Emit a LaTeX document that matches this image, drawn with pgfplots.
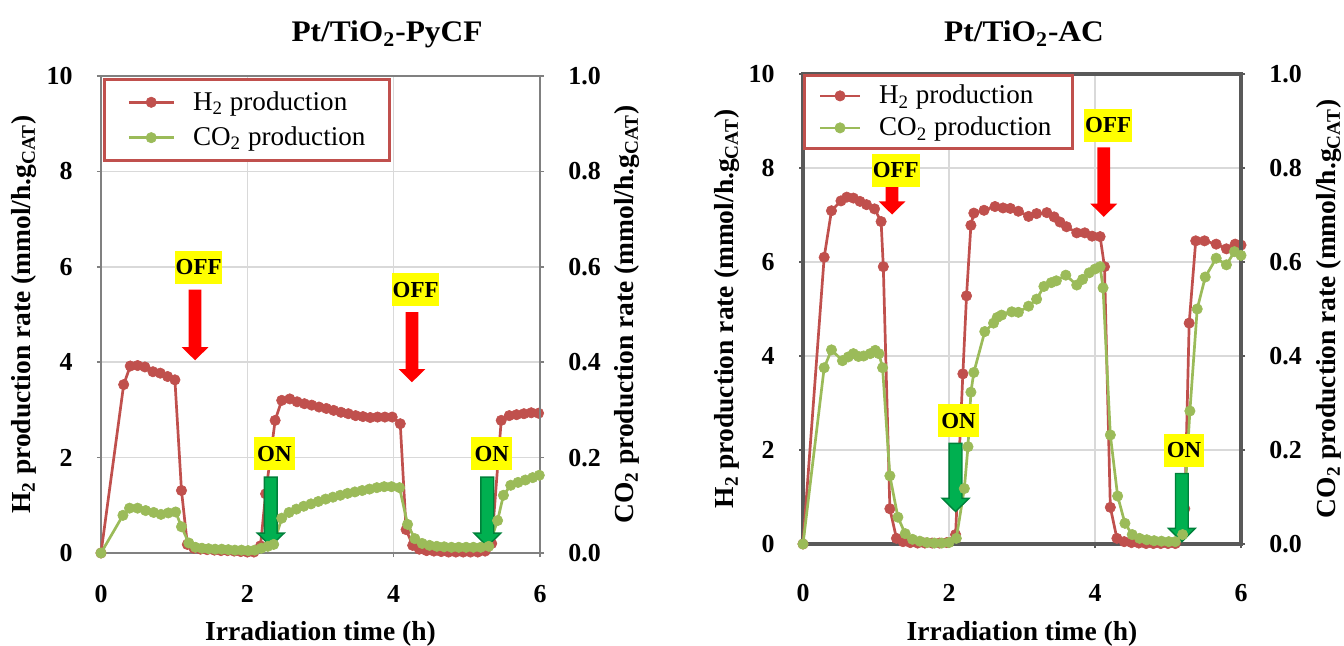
\documentclass[border=0pt]{standalone}
\usepackage{fontspec}
\setmainfont{Liberation Serif}
\newfontfamily\titlefont{Liberation Serif}[FakeStretch=1.05]
\usepackage{pgfplots}
\pgfplotsset{compat=1.18}
\usetikzlibrary{calc}
\definecolor{h2c}{HTML}{C0504D}
\definecolor{co2c}{HTML}{9BBB59}
\definecolor{gridc}{HTML}{D9D9D9}
\definecolor{frameA}{HTML}{808080}
\definecolor{frameB}{HTML}{595959}
\definecolor{arrG}{HTML}{00B050}
\definecolor{arrGd}{HTML}{00803A}
\definecolor{lblY}{HTML}{FFFF00}

\newcommand{\blockarrow}[5]{%
  \filldraw[fill=#4, draw=#5, line width=0.7bp, line join=miter]
   ($(axis cs:#1,#2)+(-3.2bp,0)$) -- ($(axis cs:#1,#2)+(3.2bp,0)$) --
   ($(axis cs:#1,#3)+(3.2bp,6.6bp)$) -- ($(axis cs:#1,#3)+(6.7bp,6.6bp)$) --
   (axis cs:#1,#3) -- ($(axis cs:#1,#3)+(-6.7bp,6.6bp)$) --
   ($(axis cs:#1,#3)+(-3.2bp,6.6bp)$) -- cycle;}

\tikzset{
  offlbl/.style={fill=lblY, font=\bfseries\fontsize{11.5}{12}\selectfont, inner sep=0pt, minimum height=16.5bp, minimum width=23.8bp},
  onlbl/.style={fill=lblY, font=\bfseries\fontsize{11.5}{12}\selectfont, inner sep=0pt, minimum height=16.5bp, minimum width=20.3bp},
}
\pgfplotsset{
  base/.style={
    scale only axis, xmin=0, xmax=6, xtick={0,2,4,6},
    clip=false,
    /pgf/number format/assume math mode=true,
    tick align=outside, major tick length=2bp,
    tick style={line width=0.8bp, draw=frameA},
    ticklabel style={font=\bfseries\fontsize{13}{15}\selectfont},
    label style={font=\bfseries\fontsize{13.8}{16}\selectfont},
  },
  h2/.style={color=h2c, line width=1.35bp, mark=*, mark size=2.6bp,
    mark options={solid, fill=h2c, draw=h2c, line width=0.3bp}},
  co2/.style={color=co2c, line width=1.35bp, mark=*, mark size=2.6bp,
    mark options={solid, fill=co2c, draw=co2c, line width=0.3bp}},
}
\newcommand{\lentry}[2]{\makebox[#1][l]{#2}}

\begin{document}
\begin{tikzpicture}
\path[use as bounding box] (0,0) rectangle (672bp,323bp);

% ================= LEFT CHART =================
\begin{axis}[base,
  at={(50.5bp,46.5bp)}, anchor=south west, width=219.5bp, height=238.5bp,
  ymin=0, ymax=10, ytick={0,2,4,6,8,10},
  tick pos=left,
  xmajorgrids, ymajorgrids, grid style={draw=gridc, line width=0.75bp},
  axis line style={draw=frameA, line width=1.1bp},
  xticklabel style={anchor=north, inner sep=0pt, yshift=-14bp},
  yticklabel style={anchor=east, inner sep=0pt, xshift=-12bp},
  xlabel={Irradiation time (h)},
  ylabel={H\textsubscript{2} production rate (mmol/h.g\textsubscript{CAT})},
  xlabel style={at={(axis description cs:0.5,-0.1698)}, anchor=center},
  ylabel style={at={(axis description cs:-0.1754,0.5)}, anchor=center},
  legend style={at={(axis description cs:0,1)}, anchor=north west, xshift=1bp, yshift=-1bp,
    draw=h2c, line width=1.4bp, fill=white,
    inner xsep=11.5bp, inner ysep=6bp, row sep=6.8bp, column sep=9bp,
    nodes={inner sep=0pt},
    font=\fontsize{13.6}{15}\selectfont},
  legend cell align=left,
  legend image code/.code={\draw[mark repeat=2, mark phase=2, #1] plot coordinates {(0bp,0bp) (11.25bp,0bp) (22.5bp,0bp)};},
]
\addplot[h2] coordinates {
(0,0) (0.31,3.53) (0.40,3.92) (0.50,3.93) (0.60,3.90) (0.71,3.80) (0.81,3.77) (0.91,3.70) (1.01,3.63)
(1.10,1.31) (1.18,0.18) (1.27,0.10) (1.36,0.08) (1.45,0.07) (1.55,0.06) (1.64,0.05) (1.73,0.05)
(1.82,0.04) (1.91,0.03) (2.00,0.02) (2.09,0.02) (2.18,0.15) (2.25,1.24) (2.38,2.78) (2.47,3.20)
(2.58,3.23) (2.68,3.17) (2.78,3.13) (2.88,3.10) (2.98,3.06) (3.08,3.03) (3.18,2.99) (3.28,2.95)
(3.38,2.92) (3.48,2.88) (3.58,2.86) (3.68,2.84) (3.78,2.85) (3.88,2.85) (3.98,2.85) (4.09,2.71)
(4.17,0.49) (4.26,0.16) (4.35,0.08) (4.45,0.05) (4.55,0.04) (4.65,0.03) (4.75,0.02) (4.85,0.02)
(4.95,0.02) (5.05,0.02) (5.15,0.02) (5.25,0.04) (5.34,0.20) (5.47,2.78) (5.58,2.88) (5.68,2.90)
(5.78,2.92) (5.88,2.94) (5.98,2.93)
};
\addlegendentry{\lentry{86.5bp}{H\textsubscript{2} production}}
\addlegendimage{co2}
\addlegendentry{\lentry{86.5bp}{CO\textsubscript{2} production}}
\end{axis}

\begin{axis}[base,
  at={(50.5bp,46.5bp)}, anchor=south west, width=219.5bp, height=238.5bp,
  axis x line=none, axis y line*=right,
  ymin=0, ymax=1, ytick={0,0.2,0.4,0.6,0.8,1},
  axis line style={-, draw=frameA, line width=1.4bp},
  yticklabel style={/pgf/number format/.cd, fixed, fixed zerofill, precision=1, /tikz/.cd,
    anchor=west, inner sep=0pt, xshift=12bp},
  ylabel={CO\textsubscript{2} production rate (mmol/h.g\textsubscript{CAT})},
  ylabel style={at={(axis description cs:1.1982,0.5)}, anchor=center},
]
\addplot[co2] coordinates {
(0,0) (0.30,0.079) (0.39,0.094) (0.50,0.094) (0.61,0.089) (0.72,0.085) (0.82,0.081) (0.92,0.084)
(1.02,0.086) (1.10,0.055) (1.20,0.021) (1.29,0.012) (1.38,0.010) (1.47,0.009) (1.56,0.008)
(1.65,0.008) (1.74,0.007) (1.83,0.006) (1.92,0.006) (2.01,0.005) (2.10,0.006) (2.19,0.010)
(2.28,0.014) (2.36,0.018) (2.47,0.073) (2.57,0.085) (2.67,0.092) (2.77,0.098) (2.87,0.103)
(2.97,0.108) (3.07,0.113) (3.17,0.117) (3.27,0.121) (3.37,0.125) (3.47,0.128) (3.57,0.131)
(3.67,0.134) (3.77,0.137) (3.87,0.139) (3.97,0.139) (4.08,0.137) (4.19,0.060) (4.29,0.030)
(4.39,0.020) (4.49,0.016) (4.59,0.014) (4.69,0.013) (4.79,0.012) (4.89,0.012) (4.99,0.012)
(5.09,0.012) (5.19,0.012) (5.30,0.014) (5.42,0.068) (5.50,0.121) (5.60,0.142) (5.70,0.148)
(5.80,0.153) (5.90,0.158) (5.99,0.163)
};
\blockarrow{1.286}{0.552}{0.404}{red}{none}
\blockarrow{4.25}{0.505}{0.358}{red}{none}
\blockarrow{2.32}{0.159}{0.014}{arrG}{arrGd}
\blockarrow{5.28}{0.159}{0.014}{arrG}{arrGd}
\node[offlbl] at (axis cs:1.334,0.599) {OFF};
\node[offlbl] at (axis cs:4.30,0.552) {OFF};
\node[onlbl] at (axis cs:2.37,0.208) {ON};
\node[onlbl] at (axis cs:5.34,0.208) {ON};
\end{axis}

% ================= RIGHT CHART =================
\begin{axis}[base,
  at={(401.5bp,51bp)}, anchor=south west, width=219bp, height=235bp,
  ymin=0, ymax=10, ytick={0,2,4,6,8,10},
  tick pos=left,
  xmajorgrids, ymajorgrids, grid style={draw=gridc, line width=0.75bp},
  axis line style={draw=frameB, line width=1.6bp},
  tick style={line width=0.8bp, draw=frameB},
  xticklabel style={anchor=north, inner sep=0pt, yshift=-18bp},
  yticklabel style={anchor=east, inner sep=0pt, xshift=-12bp},
  xlabel={Irradiation time (h)},
  ylabel={H\textsubscript{2} production rate (mmol/h.g\textsubscript{CAT})},
  xlabel style={at={(axis description cs:0.5,-0.1915)}, anchor=center},
  ylabel style={at={(axis description cs:-0.1735,0.5)}, anchor=center},
  legend style={at={(axis description cs:0,1)}, anchor=north west,
    draw=h2c, line width=1.4bp, fill=white,
    inner xsep=7.3bp, inner ysep=4.8bp, row sep=5.1bp, column sep=9bp,
    nodes={inner sep=0pt},
    font=\fontsize{13.6}{15}\selectfont},
  legend cell align=left,
  legend image code/.code={\draw[mark repeat=2, mark phase=2, #1] plot coordinates {(0bp,0bp) (9.85bp,0bp) (19.7bp,0bp)};},
]
\addplot[h2] coordinates {
(0,0) (0.29,6.10) (0.39,7.09) (0.52,7.30) (0.60,7.38) (0.69,7.36) (0.78,7.29) (0.87,7.22)
(0.98,7.13) (1.07,6.86) (1.10,5.90) (1.19,0.75) (1.28,0.12) (1.37,0.05) (1.47,0.03) (1.57,0.02)
(1.67,0.02) (1.77,0.02) (1.87,0.02) (1.97,0.03) (2.09,0.20) (2.19,3.62) (2.24,5.28) (2.30,6.78)
(2.34,7.04) (2.48,7.10) (2.63,7.18) (2.74,7.15) (2.84,7.14) (2.95,7.08) (3.09,6.97) (3.20,7.03)
(3.34,7.05) (3.44,6.96) (3.52,6.85) (3.61,6.75) (3.75,6.62) (3.86,6.62) (3.96,6.55) (4.07,6.54)
(4.13,5.90) (4.21,0.78) (4.30,0.12) (4.40,0.05) (4.50,0.03) (4.60,0.02) (4.70,0.01) (4.80,0.01)
(4.90,0.01) (5.00,0.01) (5.10,0.01) (5.23,0.75) (5.29,4.70) (5.38,6.45) (5.50,6.45) (5.66,6.38)
(5.80,6.28) (5.92,6.38) (6.00,6.36)
};
\addlegendentry{\lentry{89.2bp}{H\textsubscript{2} production}}
\addlegendimage{co2}
\addlegendentry{\lentry{89.2bp}{CO\textsubscript{2} production}}
\end{axis}

\begin{axis}[base,
  at={(401.5bp,51bp)}, anchor=south west, width=219bp, height=235bp,
  axis x line=none, axis y line*=right,
  ymin=0, ymax=1, ytick={0,0.2,0.4,0.6,0.8,1},
  axis line style={-, draw=frameB, line width=1.6bp},
  tick style={line width=0.8bp, draw=frameB},
  yticklabel style={/pgf/number format/.cd, fixed, fixed zerofill, precision=1, /tikz/.cd,
    anchor=west, inner sep=0pt, xshift=12bp},
  ylabel={CO\textsubscript{2} production rate (mmol/h.g\textsubscript{CAT})},
  ylabel style={at={(axis description cs:1.2009,0.5)}, anchor=center},
]
\addplot[co2] coordinates {
(0,0) (0.29,0.375) (0.39,0.413) (0.54,0.390) (0.62,0.398) (0.69,0.405) (0.76,0.399) (0.83,0.400)
(0.92,0.405) (0.99,0.412) (1.04,0.405) (1.09,0.375) (1.19,0.145) (1.30,0.057) (1.40,0.022)
(1.50,0.010) (1.60,0.006) (1.70,0.003) (1.80,0.002) (1.90,0.002) (2.00,0.003) (2.10,0.012)
(2.21,0.118) (2.26,0.207) (2.30,0.323) (2.34,0.365) (2.49,0.452) (2.61,0.470) (2.66,0.482)
(2.72,0.487) (2.86,0.494) (2.95,0.493) (3.09,0.506) (3.20,0.521) (3.30,0.548) (3.40,0.556)
(3.47,0.560) (3.60,0.572) (3.75,0.551) (3.83,0.563) (3.92,0.577) (4.00,0.585) (4.07,0.590)
(4.11,0.545) (4.21,0.232) (4.31,0.102) (4.41,0.044) (4.51,0.020) (4.61,0.012) (4.71,0.009)
(4.81,0.007) (4.91,0.006) (5.01,0.005) (5.10,0.005) (5.20,0.020) (5.30,0.283) (5.40,0.500)
(5.51,0.568) (5.66,0.608) (5.80,0.594) (5.91,0.622) (6.00,0.614)
};
\blockarrow{1.22}{0.760}{0.701}{red}{none}
\blockarrow{4.12}{0.844}{0.696}{red}{none}
\blockarrow{2.09}{0.214}{0.069}{arrG}{arrGd}
\blockarrow{5.19}{0.150}{0.005}{arrG}{arrGd}
\node[offlbl] at (axis cs:1.27,0.795) {OFF};
\node[offlbl] at (axis cs:4.18,0.891) {OFF};
\node[onlbl] at (axis cs:2.13,0.262) {ON};
\node[onlbl] at (axis cs:5.22,0.199) {ON};
\end{axis}

% ================= TITLES =================
\node[anchor=base, font={\fontsize{15}{17}\titlefont\bfseries}] at (193.5bp,302bp) {Pt/TiO\textsubscript{2}-PyCF};
\node[anchor=base, font={\fontsize{15}{17}\titlefont\bfseries}] at (512bp,302bp) {Pt/TiO\textsubscript{2}-AC};
\end{tikzpicture}
\end{document}
